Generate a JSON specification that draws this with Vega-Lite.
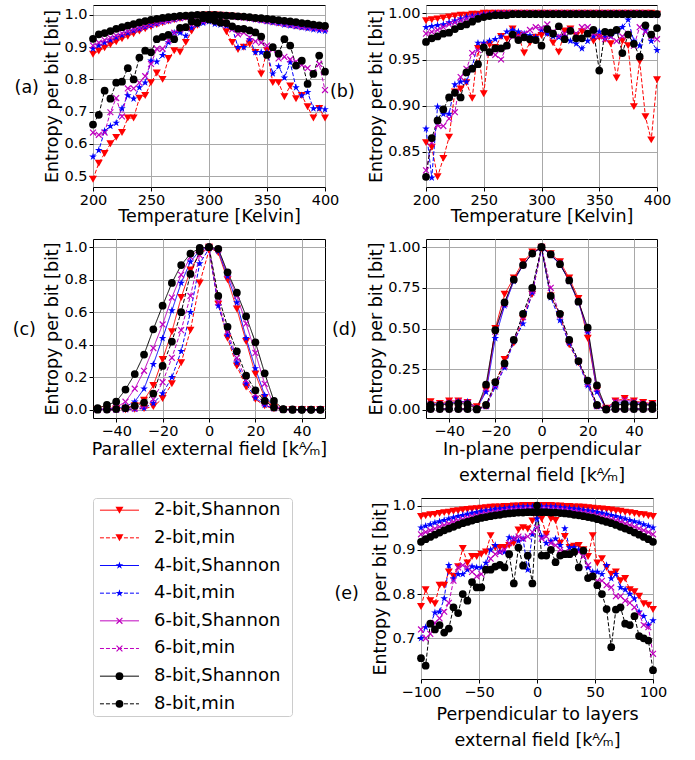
{
  "padding": {"left": 12, "top": 4, "right": 10, "bottom": 5},
  "config": {
    "font": "DejaVu Sans",
    "view": {"stroke": "#000000", "strokeWidth": 1},
    "axis": {"domain": false, "grid": true, "gridColor": "#a8a8a8", "gridWidth": 1, "tickColor": "#000000", "tickSize": 4, "tickWidth": 1, "labelFontSize": 14.5, "labelColor": "#000000", "labelPadding": 2, "titleFontSize": 17.5, "titleFontWeight": "normal", "titleColor": "#000000", "labelFlush": false, "labelOverlap": false, "titleLineHeight": 26},
    "axisX": {"titlePadding": 1},
    "axisY": {"titlePadding": 2}
  },
  "datasets": {
    "a": [
      {"x":200,"2S":0.878,"2m":0.49,"4S":0.895,"4m":0.56,"6S":0.905,"6m":0.635,"8S":0.926,"8m":0.66},
      {"x":205,"2S":0.888,"2m":0.54,"4S":0.905,"4m":0.58,"6S":0.914,"6m":0.628,"8S":0.94,"8m":0.69},
      {"x":210,"2S":0.898,"2m":0.57,"4S":0.914,"4m":0.64,"6S":0.922,"6m":0.635,"8S":0.944,"8m":0.765},
      {"x":215,"2S":0.908,"2m":0.60,"4S":0.922,"4m":0.655,"6S":0.929,"6m":0.698,"8S":0.95,"8m":0.74},
      {"x":220,"2S":0.917,"2m":0.62,"4S":0.93,"4m":0.665,"6S":0.936,"6m":0.742,"8S":0.957,"8m":0.79},
      {"x":225,"2S":0.926,"2m":0.635,"4S":0.937,"4m":0.71,"6S":0.943,"6m":0.685,"8S":0.962,"8m":0.793},
      {"x":230,"2S":0.934,"2m":0.68,"4S":0.944,"4m":0.75,"6S":0.949,"6m":0.772,"8S":0.967,"8m":0.835},
      {"x":235,"2S":0.942,"2m":0.68,"4S":0.951,"4m":0.74,"6S":0.955,"6m":0.772,"8S":0.972,"8m":0.80},
      {"x":240,"2S":0.95,"2m":0.742,"4S":0.957,"4m":0.775,"6S":0.96,"6m":0.79,"8S":0.977,"8m":0.868},
      {"x":245,"2S":0.957,"2m":0.75,"4S":0.963,"4m":0.79,"6S":0.965,"6m":0.81,"8S":0.981,"8m":0.889},
      {"x":250,"2S":0.964,"2m":0.79,"4S":0.968,"4m":0.858,"6S":0.97,"6m":0.848,"8S":0.985,"8m":0.884},
      {"x":255,"2S":0.97,"2m":0.82,"4S":0.973,"4m":0.855,"6S":0.975,"6m":0.895,"8S":0.988,"8m":0.925},
      {"x":260,"2S":0.976,"2m":0.80,"4S":0.978,"4m":0.875,"6S":0.979,"6m":0.895,"8S":0.991,"8m":0.932},
      {"x":265,"2S":0.981,"2m":0.865,"4S":0.982,"4m":0.915,"6S":0.983,"6m":0.92,"8S":0.993,"8m":0.938},
      {"x":270,"2S":0.985,"2m":0.889,"4S":0.986,"4m":0.945,"6S":0.987,"6m":0.945,"8S":0.995,"8m":0.925},
      {"x":275,"2S":0.989,"2m":0.885,"4S":0.99,"4m":0.945,"6S":0.99,"6m":0.955,"8S":0.997,"8m":0.96},
      {"x":280,"2S":0.993,"2m":0.915,"4S":0.993,"4m":0.935,"6S":0.993,"6m":0.96,"8S":0.998,"8m":0.962},
      {"x":285,"2S":0.996,"2m":0.95,"4S":0.996,"4m":0.96,"6S":0.996,"6m":0.97,"8S":0.999,"8m":0.98},
      {"x":290,"2S":0.998,"2m":0.968,"4S":0.998,"4m":0.97,"6S":0.998,"6m":0.975,"8S":1.0,"8m":0.976},
      {"x":295,"2S":0.999,"2m":0.982,"4S":0.999,"4m":0.975,"6S":0.999,"6m":0.98,"8S":1.0,"8m":0.99},
      {"x":300,"2S":1.0,"2m":0.99,"4S":1.0,"4m":0.98,"6S":1.0,"6m":0.985,"8S":1.0,"8m":0.986},
      {"x":305,"2S":1.0,"2m":0.985,"4S":1.0,"4m":0.972,"6S":1.0,"6m":0.98,"8S":1.0,"8m":0.982},
      {"x":310,"2S":0.999,"2m":0.975,"4S":0.999,"4m":0.97,"6S":0.999,"6m":0.976,"8S":0.999,"8m":0.976},
      {"x":315,"2S":0.998,"2m":0.948,"4S":0.998,"4m":0.966,"6S":0.998,"6m":0.97,"8S":0.998,"8m":0.975},
      {"x":320,"2S":0.996,"2m":0.915,"4S":0.996,"4m":0.96,"6S":0.996,"6m":0.955,"8S":0.997,"8m":0.965},
      {"x":325,"2S":0.994,"2m":0.893,"4S":0.994,"4m":0.90,"6S":0.994,"6m":0.94,"8S":0.996,"8m":0.957},
      {"x":330,"2S":0.992,"2m":0.90,"4S":0.992,"4m":0.90,"6S":0.992,"6m":0.945,"8S":0.995,"8m":0.957},
      {"x":335,"2S":0.99,"2m":0.91,"4S":0.989,"4m":0.925,"6S":0.99,"6m":0.93,"8S":0.993,"8m":0.952},
      {"x":340,"2S":0.987,"2m":0.884,"4S":0.986,"4m":0.884,"6S":0.988,"6m":0.918,"8S":0.991,"8m":0.946},
      {"x":345,"2S":0.984,"2m":0.817,"4S":0.983,"4m":0.884,"6S":0.985,"6m":0.914,"8S":0.99,"8m":0.933},
      {"x":350,"2S":0.981,"2m":0.89,"4S":0.98,"4m":0.884,"6S":0.982,"6m":0.905,"8S":0.988,"8m":0.876},
      {"x":355,"2S":0.978,"2m":0.79,"4S":0.977,"4m":0.818,"6S":0.979,"6m":0.893,"8S":0.986,"8m":0.90},
      {"x":360,"2S":0.975,"2m":0.79,"4S":0.974,"4m":0.84,"6S":0.976,"6m":0.865,"8S":0.984,"8m":0.88},
      {"x":365,"2S":0.972,"2m":0.746,"4S":0.97,"4m":0.805,"6S":0.973,"6m":0.87,"8S":0.982,"8m":0.925},
      {"x":370,"2S":0.969,"2m":0.78,"4S":0.967,"4m":0.853,"6S":0.97,"6m":0.862,"8S":0.98,"8m":0.905},
      {"x":375,"2S":0.966,"2m":0.74,"4S":0.964,"4m":0.775,"6S":0.967,"6m":0.855,"8S":0.978,"8m":0.843},
      {"x":380,"2S":0.963,"2m":0.75,"4S":0.961,"4m":0.75,"6S":0.964,"6m":0.845,"8S":0.975,"8m":0.858},
      {"x":385,"2S":0.961,"2m":0.715,"4S":0.958,"4m":0.76,"6S":0.962,"6m":0.835,"8S":0.973,"8m":0.786},
      {"x":390,"2S":0.959,"2m":0.68,"4S":0.955,"4m":0.71,"6S":0.96,"6m":0.82,"8S":0.97,"8m":0.817},
      {"x":395,"2S":0.957,"2m":0.71,"4S":0.952,"4m":0.71,"6S":0.958,"6m":0.848,"8S":0.968,"8m":0.874},
      {"x":400,"2S":0.955,"2m":0.68,"4S":0.95,"4m":0.707,"6S":0.956,"6m":0.767,"8S":0.966,"8m":0.824}
    ],
    "b": [
      {"x":200,"2S":0.992,"2m":0.86,"4S":0.985,"4m":0.875,"6S":0.978,"6m":0.83,"8S":0.969,"8m":0.823},
      {"x":205,"2S":0.993,"2m":0.855,"4S":0.986,"4m":0.822,"6S":0.98,"6m":0.86,"8S":0.973,"8m":0.865},
      {"x":210,"2S":0.994,"2m":0.823,"4S":0.987,"4m":0.899,"6S":0.982,"6m":0.879,"8S":0.975,"8m":0.884},
      {"x":215,"2S":0.995,"2m":0.843,"4S":0.988,"4m":0.891,"6S":0.985,"6m":0.878,"8S":0.978,"8m":0.896},
      {"x":220,"2S":0.996,"2m":0.866,"4S":0.99,"4m":0.891,"6S":0.988,"6m":0.886,"8S":0.979,"8m":0.909},
      {"x":225,"2S":0.997,"2m":0.915,"4S":0.992,"4m":0.923,"6S":0.99,"6m":0.893,"8S":0.983,"8m":0.914},
      {"x":230,"2S":0.998,"2m":0.918,"4S":0.994,"4m":0.926,"6S":0.992,"6m":0.931,"8S":0.986,"8m":0.909},
      {"x":235,"2S":0.998,"2m":0.925,"4S":0.996,"4m":0.926,"6S":0.994,"6m":0.94,"8S":0.988,"8m":0.936},
      {"x":240,"2S":0.999,"2m":0.908,"4S":0.997,"4m":0.942,"6S":0.996,"6m":0.957,"8S":0.991,"8m":0.94},
      {"x":245,"2S":0.999,"2m":0.962,"4S":0.998,"4m":0.968,"6S":0.997,"6m":0.96,"8S":0.994,"8m":0.945},
      {"x":250,"2S":1.0,"2m":0.913,"4S":0.999,"4m":0.968,"6S":0.998,"6m":0.965,"8S":0.996,"8m":0.963},
      {"x":255,"2S":1.0,"2m":0.966,"4S":0.999,"4m":0.97,"6S":0.999,"6m":0.957,"8S":0.997,"8m":0.958},
      {"x":260,"2S":1.0,"2m":0.963,"4S":1.0,"4m":0.972,"6S":0.999,"6m":0.955,"8S":0.998,"8m":0.962},
      {"x":265,"2S":1.0,"2m":0.975,"4S":1.0,"4m":0.975,"6S":1.0,"6m":0.95,"8S":0.998,"8m":0.962},
      {"x":270,"2S":1.0,"2m":0.972,"4S":1.0,"4m":0.98,"6S":1.0,"6m":0.965,"8S":0.998,"8m":0.965},
      {"x":275,"2S":1.0,"2m":0.983,"4S":1.0,"4m":0.982,"6S":1.0,"6m":0.975,"8S":0.999,"8m":0.977},
      {"x":280,"2S":1.0,"2m":0.976,"4S":1.0,"4m":0.98,"6S":1.0,"6m":0.975,"8S":0.999,"8m":0.971},
      {"x":285,"2S":1.0,"2m":0.957,"4S":1.0,"4m":0.978,"6S":1.0,"6m":0.978,"8S":0.999,"8m":0.974},
      {"x":290,"2S":1.0,"2m":0.968,"4S":1.0,"4m":0.976,"6S":1.0,"6m":0.982,"8S":0.999,"8m":0.972},
      {"x":295,"2S":1.0,"2m":0.974,"4S":1.0,"4m":0.974,"6S":1.0,"6m":0.985,"8S":0.999,"8m":0.971},
      {"x":300,"2S":1.0,"2m":0.976,"4S":1.0,"4m":0.982,"6S":1.0,"6m":0.984,"8S":0.999,"8m":0.965},
      {"x":305,"2S":1.0,"2m":0.978,"4S":1.0,"4m":0.978,"6S":1.0,"6m":0.988,"8S":0.999,"8m":0.983},
      {"x":310,"2S":1.0,"2m":0.968,"4S":1.0,"4m":0.975,"6S":1.0,"6m":0.98,"8S":0.999,"8m":0.978},
      {"x":315,"2S":1.0,"2m":0.958,"4S":1.0,"4m":0.974,"6S":1.0,"6m":0.975,"8S":0.999,"8m":0.986},
      {"x":320,"2S":1.0,"2m":0.981,"4S":1.0,"4m":0.975,"6S":1.0,"6m":0.978,"8S":0.999,"8m":0.972},
      {"x":325,"2S":1.0,"2m":0.983,"4S":1.0,"4m":0.97,"6S":1.0,"6m":0.982,"8S":0.999,"8m":0.981},
      {"x":330,"2S":1.0,"2m":0.976,"4S":1.0,"4m":0.967,"6S":1.0,"6m":0.978,"8S":0.999,"8m":0.973},
      {"x":335,"2S":1.0,"2m":0.98,"4S":1.0,"4m":0.962,"6S":1.0,"6m":0.985,"8S":0.999,"8m":0.973},
      {"x":340,"2S":1.0,"2m":0.978,"4S":1.0,"4m":0.97,"6S":1.0,"6m":0.985,"8S":0.999,"8m":0.978},
      {"x":345,"2S":1.0,"2m":0.97,"4S":1.0,"4m":0.975,"6S":1.0,"6m":0.978,"8S":0.999,"8m":0.982},
      {"x":350,"2S":1.0,"2m":0.974,"4S":1.0,"4m":0.98,"6S":1.0,"6m":0.975,"8S":0.999,"8m":0.938},
      {"x":355,"2S":1.0,"2m":0.972,"4S":1.0,"4m":0.974,"6S":1.0,"6m":0.972,"8S":0.999,"8m":0.98},
      {"x":360,"2S":1.0,"2m":0.967,"4S":1.0,"4m":0.975,"6S":1.0,"6m":0.975,"8S":0.999,"8m":0.979},
      {"x":365,"2S":1.0,"2m":0.93,"4S":1.0,"4m":0.98,"6S":1.0,"6m":0.97,"8S":0.999,"8m":0.982},
      {"x":370,"2S":1.0,"2m":0.97,"4S":1.0,"4m":0.985,"6S":1.0,"6m":0.975,"8S":0.999,"8m":0.957},
      {"x":375,"2S":1.0,"2m":0.965,"4S":1.0,"4m":0.993,"6S":1.0,"6m":0.978,"8S":0.999,"8m":0.977},
      {"x":380,"2S":1.0,"2m":0.899,"4S":1.0,"4m":0.97,"6S":1.0,"6m":0.965,"8S":0.999,"8m":0.967},
      {"x":385,"2S":1.0,"2m":0.948,"4S":1.0,"4m":0.965,"6S":1.0,"6m":0.985,"8S":0.999,"8m":0.953},
      {"x":390,"2S":1.0,"2m":0.888,"4S":0.999,"4m":0.982,"6S":1.0,"6m":0.98,"8S":0.999,"8m":0.987},
      {"x":395,"2S":1.0,"2m":0.863,"4S":0.999,"4m":0.97,"6S":0.999,"6m":0.975,"8S":0.999,"8m":0.977},
      {"x":400,"2S":0.999,"2m":0.928,"4S":0.998,"4m":0.96,"6S":0.999,"6m":0.972,"8S":0.999,"8m":0.984}
    ],
    "c": [
      {"x":-48,"2S":0.002,"2m":0,"4S":0.002,"4m":0,"6S":0.004,"6m":0,"8S":0.01,"8m":0.001},
      {"x":-44,"2S":0.003,"2m":0,"4S":0.004,"4m":0,"6S":0.007,"6m":0.001,"8S":0.03,"8m":0.002},
      {"x":-40,"2S":0.005,"2m":0,"4S":0.01,"4m":0.001,"6S":0.015,"6m":0.002,"8S":0.05,"8m":0.005},
      {"x":-36,"2S":0.01,"2m":0.001,"4S":0.02,"4m":0.002,"6S":0.05,"6m":0.004,"8S":0.125,"8m":0.01},
      {"x":-32,"2S":0.025,"2m":0.003,"4S":0.05,"4m":0.005,"6S":0.13,"6m":0.008,"8S":0.22,"8m":0.025},
      {"x":-28,"2S":0.06,"2m":0.008,"4S":0.13,"4m":0.012,"6S":0.24,"6m":0.025,"8S":0.34,"8m":0.045},
      {"x":-24,"2S":0.15,"2m":0.02,"4S":0.28,"4m":0.04,"6S":0.38,"6m":0.065,"8S":0.495,"8m":0.10},
      {"x":-20,"2S":0.31,"2m":0.07,"4S":0.44,"4m":0.10,"6S":0.525,"6m":0.17,"8S":0.64,"8m":0.27},
      {"x":-16,"2S":0.48,"2m":0.16,"4S":0.61,"4m":0.20,"6S":0.69,"6m":0.32,"8S":0.78,"8m":0.42},
      {"x":-12,"2S":0.69,"2m":0.29,"4S":0.78,"4m":0.36,"6S":0.83,"6m":0.49,"8S":0.89,"8m":0.60},
      {"x":-8,"2S":0.86,"2m":0.49,"4S":0.91,"4m":0.60,"6S":0.94,"6m":0.70,"8S":0.96,"8m":0.835},
      {"x":-4,"2S":0.96,"2m":0.78,"4S":0.98,"4m":0.90,"6S":0.99,"6m":0.95,"8S":0.995,"8m":0.975},
      {"x":0,"2S":1.0,"2m":0.98,"4S":1.0,"4m":0.99,"6S":1.0,"6m":1.0,"8S":1.0,"8m":1.0},
      {"x":4,"2S":0.965,"2m":0.65,"4S":0.975,"4m":0.64,"6S":0.985,"6m":0.66,"8S":0.99,"8m":0.70},
      {"x":8,"2S":0.80,"2m":0.44,"4S":0.82,"4m":0.46,"6S":0.835,"6m":0.48,"8S":0.845,"8m":0.51},
      {"x":12,"2S":0.62,"2m":0.27,"4S":0.66,"4m":0.29,"6S":0.70,"6m":0.32,"8S":0.72,"8m":0.36},
      {"x":16,"2S":0.42,"2m":0.14,"4S":0.44,"4m":0.16,"6S":0.53,"6m":0.18,"8S":0.575,"8m":0.21},
      {"x":20,"2S":0.22,"2m":0.065,"4S":0.255,"4m":0.075,"6S":0.35,"6m":0.095,"8S":0.415,"8m":0.12},
      {"x":24,"2S":0.075,"2m":0.025,"4S":0.09,"4m":0.03,"6S":0.16,"6m":0.04,"8S":0.225,"8m":0.055},
      {"x":28,"2S":0.015,"2m":0.006,"4S":0.02,"4m":0.008,"6S":0.03,"6m":0.01,"8S":0.055,"8m":0.015},
      {"x":32,"2S":0.003,"2m":0.001,"4S":0.003,"4m":0.002,"6S":0.003,"6m":0.002,"8S":0.005,"8m":0.003},
      {"x":36,"2S":0.002,"2m":0,"4S":0.002,"4m":0,"6S":0.002,"6m":0,"8S":0.003,"8m":0},
      {"x":40,"2S":0.002,"2m":0,"4S":0.002,"4m":0,"6S":0.002,"6m":0,"8S":0.002,"8m":0},
      {"x":44,"2S":0.002,"2m":0,"4S":0.002,"4m":0,"6S":0.002,"6m":0,"8S":0.002,"8m":0},
      {"x":48,"2S":0.002,"2m":0,"4S":0.002,"4m":0,"6S":0.002,"6m":0,"8S":0.002,"8m":0}
    ],
    "d": [
      {"x":-48,"2S":0.05,"2m":0.005,"4S":0.035,"4m":0.005,"6S":0.035,"6m":0.005,"8S":0.03,"8m":0.005},
      {"x":-44,"2S":0.04,"2m":0.005,"4S":0.035,"4m":0.005,"6S":0.035,"6m":0.005,"8S":0.03,"8m":0.005},
      {"x":-40,"2S":0.055,"2m":0.005,"4S":0.04,"4m":0.005,"6S":0.045,"6m":0.005,"8S":0.035,"8m":0.005},
      {"x":-36,"2S":0.055,"2m":0.005,"4S":0.05,"4m":0.005,"6S":0.05,"6m":0.005,"8S":0.04,"8m":0.005},
      {"x":-32,"2S":0.045,"2m":0.005,"4S":0.05,"4m":0.005,"6S":0.045,"6m":0.005,"8S":0.035,"8m":0.005},
      {"x":-28,"2S":0.02,"2m":0.003,"4S":0.01,"4m":0.003,"6S":0.01,"6m":0.003,"8S":0.005,"8m":0.003},
      {"x":-24,"2S":0.12,"2m":0.02,"4S":0.11,"4m":0.02,"6S":0.13,"6m":0.025,"8S":0.155,"8m":0.03},
      {"x":-20,"2S":0.50,"2m":0.16,"4S":0.44,"4m":0.14,"6S":0.48,"6m":0.15,"8S":0.49,"8m":0.17},
      {"x":-16,"2S":0.71,"2m":0.31,"4S":0.64,"4m":0.26,"6S":0.65,"6m":0.27,"8S":0.66,"8m":0.285},
      {"x":-12,"2S":0.81,"2m":0.41,"4S":0.79,"4m":0.42,"6S":0.80,"6m":0.43,"8S":0.80,"8m":0.43},
      {"x":-8,"2S":0.91,"2m":0.56,"4S":0.89,"4m":0.53,"6S":0.89,"6m":0.57,"8S":0.89,"8m":0.59},
      {"x":-4,"2S":0.97,"2m":0.71,"4S":0.96,"4m":0.72,"6S":0.96,"6m":0.73,"8S":0.96,"8m":0.75},
      {"x":0,"2S":1.0,"2m":0.99,"4S":1.0,"4m":0.99,"6S":1.0,"6m":1.0,"8S":1.0,"8m":1.0},
      {"x":4,"2S":0.96,"2m":0.70,"4S":0.95,"4m":0.69,"6S":0.955,"6m":0.75,"8S":0.955,"8m":0.70},
      {"x":8,"2S":0.91,"2m":0.58,"4S":0.895,"4m":0.55,"6S":0.90,"6m":0.58,"8S":0.895,"8m":0.59},
      {"x":12,"2S":0.81,"2m":0.40,"4S":0.79,"4m":0.41,"6S":0.795,"6m":0.42,"8S":0.795,"8m":0.43},
      {"x":16,"2S":0.685,"2m":0.29,"4S":0.66,"4m":0.29,"6S":0.665,"6m":0.30,"8S":0.665,"8m":0.30},
      {"x":20,"2S":0.44,"2m":0.17,"4S":0.48,"4m":0.15,"6S":0.49,"6m":0.16,"8S":0.505,"8m":0.18},
      {"x":24,"2S":0.12,"2m":0.02,"4S":0.11,"4m":0.02,"6S":0.13,"6m":0.025,"8S":0.15,"8m":0.03},
      {"x":28,"2S":0.01,"2m":0.002,"4S":0.005,"4m":0.002,"6S":0.01,"6m":0.002,"8S":0.005,"8m":0.002},
      {"x":32,"2S":0.055,"2m":0.005,"4S":0.04,"4m":0.005,"6S":0.05,"6m":0.005,"8S":0.03,"8m":0.005},
      {"x":36,"2S":0.07,"2m":0.005,"4S":0.045,"4m":0.005,"6S":0.06,"6m":0.005,"8S":0.035,"8m":0.005},
      {"x":40,"2S":0.055,"2m":0.005,"4S":0.04,"4m":0.005,"6S":0.05,"6m":0.005,"8S":0.035,"8m":0.005},
      {"x":44,"2S":0.045,"2m":0.005,"4S":0.035,"4m":0.005,"6S":0.04,"6m":0.005,"8S":0.03,"8m":0.005},
      {"x":48,"2S":0.04,"2m":0.005,"4S":0.03,"4m":0.005,"6S":0.035,"6m":0.005,"8S":0.03,"8m":0.005}
    ],
    "e": [
      {"x":-100,"2S":0.975,"2m":0.772,"4S":0.95,"4m":0.70,"6S":0.935,"6m":0.72,"8S":0.918,"8m":0.655},
      {"x":-96,"2S":0.977,"2m":0.81,"4S":0.954,"4m":0.725,"6S":0.94,"6m":0.70,"8S":0.924,"8m":0.638},
      {"x":-92,"2S":0.979,"2m":0.785,"4S":0.957,"4m":0.73,"6S":0.944,"6m":0.71,"8S":0.929,"8m":0.733},
      {"x":-88,"2S":0.98,"2m":0.778,"4S":0.961,"4m":0.758,"6S":0.948,"6m":0.735,"8S":0.934,"8m":0.72},
      {"x":-84,"2S":0.982,"2m":0.82,"4S":0.964,"4m":0.76,"6S":0.952,"6m":0.745,"8S":0.939,"8m":0.73},
      {"x":-80,"2S":0.984,"2m":0.82,"4S":0.967,"4m":0.79,"6S":0.956,"6m":0.76,"8S":0.944,"8m":0.713},
      {"x":-76,"2S":0.985,"2m":0.85,"4S":0.97,"4m":0.865,"6S":0.959,"6m":0.78,"8S":0.948,"8m":0.722},
      {"x":-72,"2S":0.987,"2m":0.84,"4S":0.973,"4m":0.835,"6S":0.963,"6m":0.83,"8S":0.952,"8m":0.77},
      {"x":-68,"2S":0.988,"2m":0.862,"4S":0.976,"4m":0.845,"6S":0.966,"6m":0.86,"8S":0.956,"8m":0.757},
      {"x":-64,"2S":0.99,"2m":0.903,"4S":0.978,"4m":0.845,"6S":0.969,"6m":0.865,"8S":0.96,"8m":0.80},
      {"x":-60,"2S":0.991,"2m":0.87,"4S":0.981,"4m":0.855,"6S":0.972,"6m":0.86,"8S":0.963,"8m":0.785},
      {"x":-56,"2S":0.992,"2m":0.885,"4S":0.983,"4m":0.862,"6S":0.975,"6m":0.85,"8S":0.966,"8m":0.827},
      {"x":-52,"2S":0.993,"2m":0.885,"4S":0.985,"4m":0.86,"6S":0.977,"6m":0.84,"8S":0.969,"8m":0.815},
      {"x":-48,"2S":0.994,"2m":0.89,"4S":0.987,"4m":0.86,"6S":0.98,"6m":0.845,"8S":0.972,"8m":0.815},
      {"x":-44,"2S":0.995,"2m":0.895,"4S":0.989,"4m":0.87,"6S":0.982,"6m":0.855,"8S":0.974,"8m":0.855},
      {"x":-40,"2S":0.996,"2m":0.932,"4S":0.99,"4m":0.90,"6S":0.984,"6m":0.88,"8S":0.976,"8m":0.855},
      {"x":-36,"2S":0.997,"2m":0.905,"4S":0.992,"4m":0.91,"6S":0.985,"6m":0.89,"8S":0.978,"8m":0.862},
      {"x":-32,"2S":0.997,"2m":0.905,"4S":0.993,"4m":0.895,"6S":0.987,"6m":0.895,"8S":0.979,"8m":0.866},
      {"x":-28,"2S":0.998,"2m":0.905,"4S":0.994,"4m":0.895,"6S":0.988,"6m":0.90,"8S":0.981,"8m":0.86},
      {"x":-24,"2S":0.998,"2m":0.91,"4S":0.995,"4m":0.928,"6S":0.99,"6m":0.915,"8S":0.982,"8m":0.89},
      {"x":-20,"2S":0.999,"2m":0.915,"4S":0.996,"4m":0.925,"6S":0.991,"6m":0.925,"8S":0.983,"8m":0.824},
      {"x":-16,"2S":0.999,"2m":0.945,"4S":0.997,"4m":0.92,"6S":0.992,"6m":0.93,"8S":0.984,"8m":0.905},
      {"x":-12,"2S":1.0,"2m":0.95,"4S":0.997,"4m":0.925,"6S":0.992,"6m":0.925,"8S":0.984,"8m":0.864},
      {"x":-8,"2S":1.0,"2m":0.947,"4S":0.998,"4m":0.855,"6S":0.993,"6m":0.93,"8S":0.985,"8m":0.887},
      {"x":-4,"2S":1.0,"2m":0.965,"4S":0.998,"4m":0.935,"6S":0.993,"6m":0.94,"8S":0.985,"8m":0.824},
      {"x":0,"2S":1.0,"2m":0.997,"4S":0.998,"4m":0.97,"6S":0.993,"6m":0.95,"8S":0.985,"8m":1.0},
      {"x":4,"2S":1.0,"2m":0.97,"4S":0.998,"4m":0.93,"6S":0.993,"6m":0.925,"8S":0.985,"8m":0.887},
      {"x":8,"2S":1.0,"2m":0.935,"4S":0.998,"4m":0.915,"6S":0.993,"6m":0.93,"8S":0.985,"8m":0.887},
      {"x":12,"2S":1.0,"2m":0.97,"4S":0.997,"4m":0.92,"6S":0.992,"6m":0.915,"8S":0.984,"8m":0.90},
      {"x":16,"2S":0.999,"2m":0.966,"4S":0.997,"4m":0.925,"6S":0.992,"6m":0.91,"8S":0.984,"8m":0.872},
      {"x":20,"2S":0.999,"2m":0.915,"4S":0.996,"4m":0.91,"6S":0.991,"6m":0.90,"8S":0.983,"8m":0.887},
      {"x":24,"2S":0.998,"2m":0.93,"4S":0.995,"4m":0.948,"6S":0.99,"6m":0.895,"8S":0.982,"8m":0.89},
      {"x":28,"2S":0.998,"2m":0.905,"4S":0.994,"4m":0.905,"6S":0.988,"6m":0.89,"8S":0.981,"8m":0.89},
      {"x":32,"2S":0.997,"2m":0.908,"4S":0.993,"4m":0.905,"6S":0.987,"6m":0.895,"8S":0.979,"8m":0.895},
      {"x":36,"2S":0.997,"2m":0.91,"4S":0.992,"4m":0.90,"6S":0.985,"6m":0.895,"8S":0.978,"8m":0.86},
      {"x":40,"2S":0.996,"2m":0.90,"4S":0.99,"4m":0.895,"6S":0.984,"6m":0.885,"8S":0.976,"8m":0.898},
      {"x":44,"2S":0.995,"2m":0.885,"4S":0.989,"4m":0.86,"6S":0.982,"6m":0.865,"8S":0.974,"8m":0.836},
      {"x":48,"2S":0.994,"2m":0.932,"4S":0.987,"4m":0.85,"6S":0.98,"6m":0.84,"8S":0.972,"8m":0.84},
      {"x":52,"2S":0.993,"2m":0.87,"4S":0.985,"4m":0.85,"6S":0.977,"6m":0.83,"8S":0.969,"8m":0.82},
      {"x":56,"2S":0.992,"2m":0.88,"4S":0.983,"4m":0.845,"6S":0.975,"6m":0.83,"8S":0.966,"8m":0.80},
      {"x":60,"2S":0.991,"2m":0.86,"4S":0.981,"4m":0.865,"6S":0.972,"6m":0.82,"8S":0.963,"8m":0.766},
      {"x":64,"2S":0.99,"2m":0.845,"4S":0.978,"4m":0.835,"6S":0.969,"6m":0.815,"8S":0.96,"8m":0.68},
      {"x":68,"2S":0.988,"2m":0.85,"4S":0.976,"4m":0.845,"6S":0.966,"6m":0.795,"8S":0.956,"8m":0.765},
      {"x":72,"2S":0.987,"2m":0.83,"4S":0.973,"4m":0.815,"6S":0.963,"6m":0.795,"8S":0.952,"8m":0.77},
      {"x":76,"2S":0.985,"2m":0.835,"4S":0.97,"4m":0.81,"6S":0.959,"6m":0.785,"8S":0.948,"8m":0.733},
      {"x":80,"2S":0.984,"2m":0.81,"4S":0.967,"4m":0.80,"6S":0.956,"6m":0.78,"8S":0.944,"8m":0.73},
      {"x":84,"2S":0.982,"2m":0.805,"4S":0.964,"4m":0.79,"6S":0.952,"6m":0.77,"8S":0.939,"8m":0.75},
      {"x":88,"2S":0.98,"2m":0.795,"4S":0.961,"4m":0.76,"6S":0.948,"6m":0.755,"8S":0.934,"8m":0.705},
      {"x":92,"2S":0.979,"2m":0.778,"4S":0.957,"4m":0.75,"6S":0.944,"6m":0.73,"8S":0.929,"8m":0.70},
      {"x":96,"2S":0.977,"2m":0.775,"4S":0.954,"4m":0.73,"6S":0.94,"6m":0.725,"8S":0.924,"8m":0.695},
      {"x":100,"2S":0.975,"2m":0.765,"4S":0.95,"4m":0.74,"6S":0.935,"6m":0.665,"8S":0.918,"8m":0.628}
    ],
    "legend": [
      {"key":"2S","label":"2-bit,Shannon"},
      {"key":"2m","label":"2-bit,min"},
      {"key":"4S","label":"4-bit,Shannon"},
      {"key":"4m","label":"4-bit,min"},
      {"key":"6S","label":"6-bit,Shannon"},
      {"key":"6m","label":"6-bit,min"},
      {"key":"8S","label":"8-bit,Shannon"},
      {"key":"8m","label":"8-bit,min"}
    ]
  },
  "vconcat": [
    {
      "hconcat": [
        {
          "width": 232, "height": 182,
          "title": {"text": "(a)", "orient": "left", "angle": 0, "align": "left", "baseline": "middle", "anchor": "middle", "offset": 5, "dy": -8, "fontSize": 17.5, "fontWeight": "normal", "color": "#000000"},
          "data": {"name": "a"},
          "transform": [{"fold": ["2S","2m","4S","4m","6S","6m","8S","8m"], "as": ["key","y"]}],
          "encoding": {
            "x": {"field": "x", "type": "quantitative", "scale": {"domain": [200,400], "nice": false, "zero": false}, "axis": {"values": [200,250,300,350,400], "title": "Temperature [Kelvin]"}},
            "y": {"field": "y", "type": "quantitative", "scale": {"domain": [0.466,1.031], "nice": false, "zero": false}, "axis": {"values": [0.5,0.6,0.7,0.8,0.9,1.0], "format": ".1f", "title": "Entropy per bit [bit]"}},
            "color": {"field": "key", "type": "nominal", "scale": {"domain": ["2S","2m","4S","4m","6S","6m","8S","8m"], "range": ["#ff0000","#ff0000","#0000ff","#0000ff","#bf00bf","#bf00bf","#000000","#000000"]}, "legend": null}
          },
          "layer": [
            {"mark": {"type": "line", "strokeWidth": 1}, "encoding": {"strokeDash": {"field": "key", "type": "nominal", "scale": {"domain": ["2S","2m","4S","4m","6S","6m","8S","8m"], "range": [[1,0],[4,2],[1,0],[4,2],[1,0],[4,2],[1,0],[4,2]]}, "legend": null}}},
            {"mark": {"type": "point", "filled": true, "opacity": 1}, "encoding": {
              "shape": {"field": "key", "type": "nominal", "scale": {"domain": ["2S","2m","4S","4m","6S","6m","8S","8m"], "range": ["triangle-down","triangle-down","M0,-1L0.225,-0.309L0.951,-0.309L0.363,0.118L0.588,0.809L0,0.382L-0.588,0.809L-0.363,0.118L-0.951,-0.309L-0.225,-0.309Z","M0,-1L0.225,-0.309L0.951,-0.309L0.363,0.118L0.588,0.809L0,0.382L-0.588,0.809L-0.363,0.118L-0.951,-0.309L-0.225,-0.309Z","M-1,-0.75L-0.75,-1L0,-0.25L0.75,-1L1,-0.75L0.25,0L1,0.75L0.75,1L0,0.25L-0.75,1L-1,0.75L-0.25,0Z","M-1,-0.75L-0.75,-1L0,-0.25L0.75,-1L1,-0.75L0.25,0L1,0.75L0.75,1L0,0.25L-0.75,1L-1,0.75L-0.25,0Z","circle","circle"]}, "legend": null},
              "size": {"field": "key", "type": "nominal", "scale": {"type": "ordinal", "domain": ["2S","2m","4S","4m","6S","6m","8S","8m"], "range": [64,64,64,64,45,45,60,60]}, "legend": null},
              "order": {"field": "key", "type": "ordinal"}
            }}
          ]
        },
        {
          "width": 231, "height": 182,
          "title": {"text": "(b)", "orient": "left", "angle": 0, "align": "left", "baseline": "middle", "anchor": "middle", "offset": 13, "dy": -4, "fontSize": 17.5, "fontWeight": "normal", "color": "#000000"},
          "data": {"name": "b"},
          "transform": [{"fold": ["2S","2m","4S","4m","6S","6m","8S","8m"], "as": ["key","y"]}],
          "encoding": {
            "x": {"field": "x", "type": "quantitative", "scale": {"domain": [200,400], "nice": false, "zero": false}, "axis": {"values": [200,250,300,350,400], "title": "Temperature [Kelvin]"}},
            "y": {"field": "y", "type": "quantitative", "scale": {"domain": [0.812,1.009], "nice": false, "zero": false}, "axis": {"values": [0.85,0.9,0.95,1.0], "format": ".2f", "title": "Entropy per bit [bit]"}},
            "color": {"field": "key", "type": "nominal", "scale": {"domain": ["2S","2m","4S","4m","6S","6m","8S","8m"], "range": ["#ff0000","#ff0000","#0000ff","#0000ff","#bf00bf","#bf00bf","#000000","#000000"]}, "legend": null}
          },
          "layer": [
            {"mark": {"type": "line", "strokeWidth": 1}, "encoding": {"strokeDash": {"field": "key", "type": "nominal", "scale": {"domain": ["2S","2m","4S","4m","6S","6m","8S","8m"], "range": [[1,0],[4,2],[1,0],[4,2],[1,0],[4,2],[1,0],[4,2]]}, "legend": null}}},
            {"mark": {"type": "point", "filled": true, "opacity": 1}, "encoding": {
              "shape": {"field": "key", "type": "nominal", "scale": {"domain": ["2S","2m","4S","4m","6S","6m","8S","8m"], "range": ["triangle-down","triangle-down","M0,-1L0.225,-0.309L0.951,-0.309L0.363,0.118L0.588,0.809L0,0.382L-0.588,0.809L-0.363,0.118L-0.951,-0.309L-0.225,-0.309Z","M0,-1L0.225,-0.309L0.951,-0.309L0.363,0.118L0.588,0.809L0,0.382L-0.588,0.809L-0.363,0.118L-0.951,-0.309L-0.225,-0.309Z","M-1,-0.75L-0.75,-1L0,-0.25L0.75,-1L1,-0.75L0.25,0L1,0.75L0.75,1L0,0.25L-0.75,1L-1,0.75L-0.25,0Z","M-1,-0.75L-0.75,-1L0,-0.25L0.75,-1L1,-0.75L0.25,0L1,0.75L0.75,1L0,0.25L-0.75,1L-1,0.75L-0.25,0Z","circle","circle"]}, "legend": null},
              "size": {"field": "key", "type": "nominal", "scale": {"type": "ordinal", "domain": ["2S","2m","4S","4m","6S","6m","8S","8m"], "range": [64,64,64,64,45,45,60,60]}, "legend": null},
              "order": {"field": "key", "type": "ordinal"}
            }}
          ]
        }
      ],
      "spacing": 101, "bounds": "flush"
    },
    {
      "hconcat": [
        {
          "width": 232, "height": 179,
          "title": {"text": "(c)", "orient": "left", "angle": 0, "align": "left", "baseline": "middle", "anchor": "middle", "offset": 8, "dy": 1, "fontSize": 17.5, "fontWeight": "normal", "color": "#000000"},
          "data": {"name": "c"},
          "transform": [{"fold": ["2S","2m","4S","4m","6S","6m","8S","8m"], "as": ["key","y"]}],
          "encoding": {
            "x": {"field": "x", "type": "quantitative", "scale": {"domain": [-50,50], "nice": false, "zero": false}, "axis": {"values": [-40,-20,0,20,40], "title": "Parallel external field [kᴬ⁄ₘ]", "titlePadding": 3}},
            "y": {"field": "y", "type": "quantitative", "scale": {"domain": [-0.05,1.05], "nice": false, "zero": false}, "axis": {"values": [0,0.2,0.4,0.6,0.8,1.0], "format": ".1f", "title": "Entropy per bit [bit]"}},
            "color": {"field": "key", "type": "nominal", "scale": {"domain": ["2S","2m","4S","4m","6S","6m","8S","8m"], "range": ["#ff0000","#ff0000","#0000ff","#0000ff","#bf00bf","#bf00bf","#000000","#000000"]}, "legend": null}
          },
          "layer": [
            {"mark": {"type": "line", "strokeWidth": 1}, "encoding": {"strokeDash": {"field": "key", "type": "nominal", "scale": {"domain": ["2S","2m","4S","4m","6S","6m","8S","8m"], "range": [[1,0],[4,2],[1,0],[4,2],[1,0],[4,2],[1,0],[4,2]]}, "legend": null}}},
            {"mark": {"type": "point", "filled": true, "opacity": 1}, "encoding": {
              "shape": {"field": "key", "type": "nominal", "scale": {"domain": ["2S","2m","4S","4m","6S","6m","8S","8m"], "range": ["triangle-down","triangle-down","M0,-1L0.225,-0.309L0.951,-0.309L0.363,0.118L0.588,0.809L0,0.382L-0.588,0.809L-0.363,0.118L-0.951,-0.309L-0.225,-0.309Z","M0,-1L0.225,-0.309L0.951,-0.309L0.363,0.118L0.588,0.809L0,0.382L-0.588,0.809L-0.363,0.118L-0.951,-0.309L-0.225,-0.309Z","M-1,-0.75L-0.75,-1L0,-0.25L0.75,-1L1,-0.75L0.25,0L1,0.75L0.75,1L0,0.25L-0.75,1L-1,0.75L-0.25,0Z","M-1,-0.75L-0.75,-1L0,-0.25L0.75,-1L1,-0.75L0.25,0L1,0.75L0.75,1L0,0.25L-0.75,1L-1,0.75L-0.25,0Z","circle","circle"]}, "legend": null},
              "size": {"field": "key", "type": "nominal", "scale": {"type": "ordinal", "domain": ["2S","2m","4S","4m","6S","6m","8S","8m"], "range": [64,64,64,64,45,45,60,60]}, "legend": null},
              "order": {"field": "key", "type": "ordinal"}
            }}
          ]
        },
        {
          "width": 231, "height": 179,
          "title": {"text": "(d)", "orient": "left", "angle": 0, "align": "left", "baseline": "middle", "anchor": "middle", "offset": 11, "dy": 1, "fontSize": 17.5, "fontWeight": "normal", "color": "#000000"},
          "data": {"name": "d"},
          "transform": [{"fold": ["2S","2m","4S","4m","6S","6m","8S","8m"], "as": ["key","y"]}],
          "encoding": {
            "x": {"field": "x", "type": "quantitative", "scale": {"domain": [-50,50], "nice": false, "zero": false}, "axis": {"values": [-40,-20,0,20,40], "title": ["In-plane perpendicular", "external field [kᴬ⁄ₘ]"], "titlePadding": 3}},
            "y": {"field": "y", "type": "quantitative", "scale": {"domain": [-0.05,1.05], "nice": false, "zero": false}, "axis": {"values": [0,0.25,0.5,0.75,1.0], "format": ".2f", "title": "Entropy per bit [bit]"}},
            "color": {"field": "key", "type": "nominal", "scale": {"domain": ["2S","2m","4S","4m","6S","6m","8S","8m"], "range": ["#ff0000","#ff0000","#0000ff","#0000ff","#bf00bf","#bf00bf","#000000","#000000"]}, "legend": null}
          },
          "layer": [
            {"mark": {"type": "line", "strokeWidth": 1}, "encoding": {"strokeDash": {"field": "key", "type": "nominal", "scale": {"domain": ["2S","2m","4S","4m","6S","6m","8S","8m"], "range": [[1,0],[4,2],[1,0],[4,2],[1,0],[4,2],[1,0],[4,2]]}, "legend": null}}},
            {"mark": {"type": "point", "filled": true, "opacity": 1}, "encoding": {
              "shape": {"field": "key", "type": "nominal", "scale": {"domain": ["2S","2m","4S","4m","6S","6m","8S","8m"], "range": ["triangle-down","triangle-down","M0,-1L0.225,-0.309L0.951,-0.309L0.363,0.118L0.588,0.809L0,0.382L-0.588,0.809L-0.363,0.118L-0.951,-0.309L-0.225,-0.309Z","M0,-1L0.225,-0.309L0.951,-0.309L0.363,0.118L0.588,0.809L0,0.382L-0.588,0.809L-0.363,0.118L-0.951,-0.309L-0.225,-0.309Z","M-1,-0.75L-0.75,-1L0,-0.25L0.75,-1L1,-0.75L0.25,0L1,0.75L0.75,1L0,0.25L-0.75,1L-1,0.75L-0.25,0Z","M-1,-0.75L-0.75,-1L0,-0.25L0.75,-1L1,-0.75L0.25,0L1,0.75L0.75,1L0,0.25L-0.75,1L-1,0.75L-0.25,0Z","circle","circle"]}, "legend": null},
              "size": {"field": "key", "type": "nominal", "scale": {"type": "ordinal", "domain": ["2S","2m","4S","4m","6S","6m","8S","8m"], "range": [64,64,64,64,45,45,60,60]}, "legend": null},
              "order": {"field": "key", "type": "ordinal"}
            }}
          ]
        }
      ],
      "spacing": 101, "bounds": "flush"
    },
    {
      "hconcat": [
        {
          "width": 199, "height": 218,
          "view": {"stroke": "#cccccc", "strokeWidth": 1, "cornerRadius": 3},
          "data": {"name": "legend"},
          "encoding": {
            "y": {"field": "key", "type": "nominal", "scale": {"type": "point", "domain": ["2S","2m","4S","4m","6S","6m","8S","8m"], "padding": 0.44}, "axis": null}
          },
          "layer": [
            {"mark": {"type": "rule", "strokeWidth": 1}, "encoding": {
              "x": {"datum": 0.035, "type": "quantitative", "scale": {"domain": [0,1], "nice": false, "zero": false}, "axis": null},
              "x2": {"datum": 0.231},
              "color": {"field": "key", "type": "nominal", "scale": {"domain": ["2S","2m","4S","4m","6S","6m","8S","8m"], "range": ["#ff0000","#ff0000","#0000ff","#0000ff","#bf00bf","#bf00bf","#000000","#000000"]}, "legend": null},
              "strokeDash": {"field": "key", "type": "nominal", "scale": {"domain": ["2S","2m","4S","4m","6S","6m","8S","8m"], "range": [[1,0],[4,2],[1,0],[4,2],[1,0],[4,2],[1,0],[4,2]]}, "legend": null}
            }},
            {"mark": {"type": "point", "filled": true, "opacity": 1}, "encoding": {
              "x": {"datum": 0.133, "type": "quantitative"},
              "color": {"field": "key", "type": "nominal", "scale": {"domain": ["2S","2m","4S","4m","6S","6m","8S","8m"], "range": ["#ff0000","#ff0000","#0000ff","#0000ff","#bf00bf","#bf00bf","#000000","#000000"]}, "legend": null},
              "shape": {"field": "key", "type": "nominal", "scale": {"domain": ["2S","2m","4S","4m","6S","6m","8S","8m"], "range": ["triangle-down","triangle-down","M0,-1L0.225,-0.309L0.951,-0.309L0.363,0.118L0.588,0.809L0,0.382L-0.588,0.809L-0.363,0.118L-0.951,-0.309L-0.225,-0.309Z","M0,-1L0.225,-0.309L0.951,-0.309L0.363,0.118L0.588,0.809L0,0.382L-0.588,0.809L-0.363,0.118L-0.951,-0.309L-0.225,-0.309Z","M-1,-0.75L-0.75,-1L0,-0.25L0.75,-1L1,-0.75L0.25,0L1,0.75L0.75,1L0,0.25L-0.75,1L-1,0.75L-0.25,0Z","M-1,-0.75L-0.75,-1L0,-0.25L0.75,-1L1,-0.75L0.25,0L1,0.75L0.75,1L0,0.25L-0.75,1L-1,0.75L-0.25,0Z","circle","circle"]}, "legend": null},
              "size": {"field": "key", "type": "nominal", "scale": {"type": "ordinal", "domain": ["2S","2m","4S","4m","6S","6m","8S","8m"], "range": [64,64,64,64,45,45,60,60]}, "legend": null}
            }},
            {"mark": {"type": "text", "align": "left", "baseline": "middle", "fontSize": 18, "color": "#000000"}, "encoding": {
              "x": {"datum": 0.307, "type": "quantitative"},
              "text": {"field": "label", "type": "nominal"}
            }}
          ]
        },
        {
          "width": 232, "height": 181,
          "title": {"text": "(e)", "orient": "left", "angle": 0, "align": "left", "baseline": "middle", "anchor": "middle", "offset": 13, "dy": 5, "fontSize": 17.5, "fontWeight": "normal", "color": "#000000"},
          "data": {"name": "e"},
          "transform": [{"fold": ["2S","2m","4S","4m","6S","6m","8S","8m"], "as": ["key","y"]}],
          "encoding": {
            "x": {"field": "x", "type": "quantitative", "scale": {"domain": [-100,100], "nice": false, "zero": false}, "axis": {"values": [-100,-50,0,50,100], "title": ["Perpendicular to layers", "external field [kᴬ⁄ₘ]"], "titlePadding": 7}},
            "y": {"field": "y", "type": "quantitative", "scale": {"domain": [0.608,1.017], "nice": false, "zero": false}, "axis": {"values": [0.7,0.8,0.9,1.0], "format": ".1f", "title": "Entropy per bit [bit]"}},
            "color": {"field": "key", "type": "nominal", "scale": {"domain": ["2S","2m","4S","4m","6S","6m","8S","8m"], "range": ["#ff0000","#ff0000","#0000ff","#0000ff","#bf00bf","#bf00bf","#000000","#000000"]}, "legend": null}
          },
          "layer": [
            {"mark": {"type": "line", "strokeWidth": 1}, "encoding": {"strokeDash": {"field": "key", "type": "nominal", "scale": {"domain": ["2S","2m","4S","4m","6S","6m","8S","8m"], "range": [[1,0],[4,2],[1,0],[4,2],[1,0],[4,2],[1,0],[4,2]]}, "legend": null}}},
            {"mark": {"type": "point", "filled": true, "opacity": 1}, "encoding": {
              "shape": {"field": "key", "type": "nominal", "scale": {"domain": ["2S","2m","4S","4m","6S","6m","8S","8m"], "range": ["triangle-down","triangle-down","M0,-1L0.225,-0.309L0.951,-0.309L0.363,0.118L0.588,0.809L0,0.382L-0.588,0.809L-0.363,0.118L-0.951,-0.309L-0.225,-0.309Z","M0,-1L0.225,-0.309L0.951,-0.309L0.363,0.118L0.588,0.809L0,0.382L-0.588,0.809L-0.363,0.118L-0.951,-0.309L-0.225,-0.309Z","M-1,-0.75L-0.75,-1L0,-0.25L0.75,-1L1,-0.75L0.25,0L1,0.75L0.75,1L0,0.25L-0.75,1L-1,0.75L-0.25,0Z","M-1,-0.75L-0.75,-1L0,-0.25L0.75,-1L1,-0.75L0.25,0L1,0.75L0.75,1L0,0.25L-0.75,1L-1,0.75L-0.25,0Z","circle","circle"]}, "legend": null},
              "size": {"field": "key", "type": "nominal", "scale": {"type": "ordinal", "domain": ["2S","2m","4S","4m","6S","6m","8S","8m"], "range": [64,64,64,64,45,45,60,60]}, "legend": null},
              "order": {"field": "key", "type": "ordinal"}
            }}
          ]
        }
      ],
      "spacing": 129, "bounds": "flush"
    }
  ],
  "spacing": 12
}
